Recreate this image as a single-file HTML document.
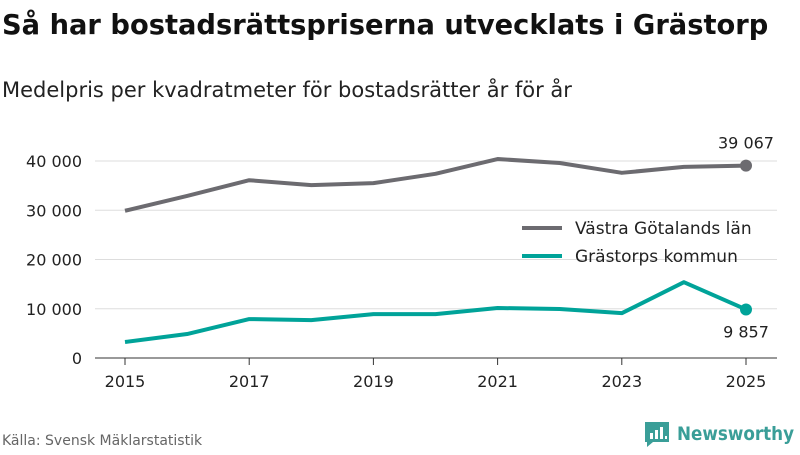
<!DOCTYPE html>
<html><head><meta charset="utf-8"><style>
body{margin:0;background:#fff;font-family:"Liberation Sans","DejaVu Sans",sans-serif}
svg text{font-family:"DejaVu Sans","Liberation Sans",sans-serif}
</style></head><body>
<svg id="c" width="800" height="450" viewBox="0 0 800 450">
<text x="2" y="34" font-size="27.3" font-weight="bold" fill="#111">Så har bostadsrättspriserna utvecklats i Grästorp</text>
<text x="2" y="97" font-size="21" fill="#222">Medelpris per kvadratmeter för bostadsrätter år för år</text>
<g id="grid"></g>
<g id="xaxis"></g>
<g id="series"></g>
<g>
<line x1="522" y1="228" x2="562" y2="228" stroke="#6c6b70" stroke-width="4"/>
<text x="575" y="234" font-size="17" fill="#222">Västra Götalands län</text>
<line x1="522" y1="256" x2="562" y2="256" stroke="#00a399" stroke-width="4"/>
<text x="575" y="262" font-size="17" fill="#222">Grästorps kommun</text>
</g>
<text x="2" y="445" font-size="14" fill="#666">Källa: Svensk Mäklarstatistik</text>
<g>
<path d="M645 422 h24 v20 h-16 l-6 5 v-5 h-2 z" fill="#3a9e98"/>
<rect x="650" y="433" width="3" height="6" fill="#fff"/><rect x="655" y="430" width="3" height="9" fill="#fff"/><rect x="660" y="427" width="3" height="12" fill="#fff"/><rect x="665" y="436" width="2" height="3" fill="#fff"/>
<text x="677" y="440" font-size="19" fill="#3a9e98" font-weight="bold" textLength="117" lengthAdjust="spacingAndGlyphs">Newsworthy</text>
</g>
</svg>
<script>
const years=[2015,2016,2017,2018,2019,2020,2021,2022,2023,2024,2025];
const vastra=[29900,32900,36100,35100,35500,37400,40400,39600,37600,38800,39067];
const grastorp=[3250,4870,7900,7700,8900,8900,10150,9950,9100,15400,9857];
const yTicks=[0,10000,20000,30000,40000];
const yTickLabels=["0","10 000","20 000","30 000","40 000"];
const xTicks=[2015,2017,2019,2021,2023,2025];
const NS="http://www.w3.org/2000/svg";
const x=v=>125+(v-2015)*62.1;
const y=v=>358-v/10000*49.25;
function mk(t,a,p){const e=document.createElementNS(NS,t);for(const k in a)e.setAttribute(k,a[k]);p.appendChild(e);return e;}
const g=document.getElementById('grid');
yTicks.forEach((t,i)=>{
 const l=mk('line',{x1:95,x2:777,y1:y(t),y2:y(t),stroke:t===0?'#333':'#ddd','stroke-width':1},g);
 
 
 const tx=mk('text',{x:82,y:y(t)+6,'font-size':16,fill:'#222','text-anchor':'end'},g);
 tx.textContent=yTickLabels[i];
 
 
});
const xa=document.getElementById('xaxis');
xTicks.forEach(t=>{
 const l=mk('line',{x1:x(t),x2:x(t),y1:358,y2:365,stroke:'#333'},xa);
 
 
 const tx=mk('text',{x:x(t),y:387,'font-size':16,fill:'#222','text-anchor':'middle'},xa);
 tx.textContent=t;
 
 
});
const s=document.getElementById('series');
function line(vals,col,name){
 const p=mk('polyline',{points:vals.map((v,i)=>x(years[i])+','+y(v)).join(' '),fill:'none',stroke:col,'stroke-width':4,'stroke-linejoin':'round'},s);
 
 
 const n=vals.length-1;
 const c=mk('circle',{cx:x(years[n]),cy:y(vals[n]),r:6,fill:col},s);
 
 
}
line(vastra,'#6c6b70','vastra-gotaland');
line(grastorp,'#00a399','grastorp');
const fmt=v=>String(v).replace(/\B(?=(\d{3})+(?!\d))/g,' ');
let t1=mk('text',{x:x(2025),y:y(vastra[10])-17,'font-size':16,fill:'#222','text-anchor':'middle'},s);
t1.textContent=fmt(vastra[10]);


let t2=mk('text',{x:x(2025),y:y(grastorp[10])+28,'font-size':16,fill:'#222','text-anchor':'middle'},s);
t2.textContent=fmt(grastorp[10]);


</script>
</body></html>
